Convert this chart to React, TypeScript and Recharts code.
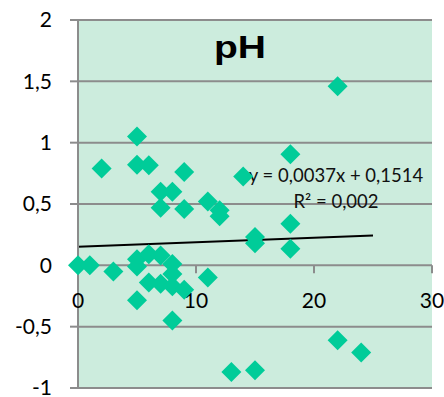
import React from "react";
import {
  ScatterChart,
  Scatter,
  XAxis,
  YAxis,
  CartesianGrid,
  ReferenceLine,
  ReferenceDot,
  Customized,
} from "recharts";

// pH change per sample (x = time step, y = delta pH)
const xValues = [
  0, 1, 2, 3, 5, 5, 5, 5, 5, 6, 6, 6, 7, 7, 7, 7, 8, 8, 8, 8, 8, 9, 9, 9, 11,
  11, 12, 12, 13, 14, 15, 15, 15, 18, 18, 18, 22, 22, 24,
];
const yValues = [
  0, 0, 0.79, -0.05, 1.05, 0.82, 0.05, -0.01, -0.285, 0.815, 0.09, -0.14, 0.6,
  0.47, 0.08, -0.15, 0.6, 0.01, -0.07, -0.17, -0.45, 0.76, 0.46, -0.2, 0.52,
  -0.1, 0.45, 0.4, -0.87, 0.725, 0.23, 0.18, -0.855, 0.905, 0.34, 0.135, 1.46,
  -0.61, -0.71,
];

const yTicks = [-1, -0.5, 0, 0.5, 1, 1.5, 2];
const xTicks = [0, 10, 20, 30];

// linear trendline as printed on the chart
const slope = 0.0037;
const intercept = 0.1514;
const trendRange = [0, 25];

const points = xValues.map((x, i) => ({ x, y: yValues[i] }));

const FONT = "Lato, 'Open Sans', sans-serif";
const GRID = "#8c8c8c";
const MARKER = "#00cc99";

const Diamond = (props: any) => {
  const { cx, cy } = props;
  const r = 10;
  return (
    <polygon
      points={`${cx},${cy - r} ${cx + r},${cy} ${cx},${cy + r} ${cx - r},${cy}`}
      fill={MARKER}
    />
  );
};

// x ticks sit on the zero line, labels below it
const XTickMark = (label: number) => (props: any) => {
  const { cx, cy } = props;
  return (
    <g>
      {label !== 0 && (
        <line x1={cx} y1={cy} x2={cx} y2={cy + 8} stroke={GRID} strokeWidth={2} />
      )}
      <text
        x={cx}
        y={cy + 43}
        textAnchor="middle"
        fontFamily={FONT}
        fontSize={21}
        fill="#000"
      >
        {label}
      </text>
    </g>
  );
};

const Labels = () => (
  <g fontFamily={FONT}>
    <text
      x={240}
      y={58}
      textAnchor="middle"
      fontFamily="'Liberation Sans', Arial, sans-serif"
      fontWeight="bold"
      fontSize={32}
      textLength={52}
      lengthAdjust="spacingAndGlyphs"
      fill="#000"
    >
      pH
    </text>
    <text x={336} y={182} textAnchor="middle" fontSize={18.5} fill="#111">
      {`y = ${String(slope).replace(".", ",")}x + ${String(intercept).replace(".", ",")}`}
    </text>
    <text x={336} y={208} textAnchor="middle" fontSize={18.5} fill="#111">
      R² = 0,002
    </text>
  </g>
);

export default function App() {
  return (
    <div style={{ position: "absolute", left: 0, top: 0 }}>
      <ScatterChart
        width={444}
        height={397}
        margin={{ top: 20, right: 12, bottom: 9, left: 0 }}
        style={{ overflow: "visible" }}
      >
        <CartesianGrid
          vertical={false}
          stroke={GRID}
          strokeWidth={2}
          fill="#ccecdd"
          fillOpacity={1}
        />
        <XAxis type="number" dataKey="x" domain={[0, 30]} ticks={xTicks} hide />
        <YAxis
          type="number"
          dataKey="y"
          domain={[-1, 2]}
          ticks={yTicks}
          width={78}
          interval={0}
          axisLine={{ stroke: GRID, strokeWidth: 2 }}
          tickLine={{ stroke: GRID, strokeWidth: 2 }}
          tickSize={8}
          tickMargin={18}
          tick={{ fontFamily: FONT, fontSize: 21, fill: "#000" }}
          tickFormatter={(v: number) => String(v).replace(".", ",")}
        />
        {xTicks.map((t) => (
          <ReferenceDot
            key={t}
            x={t}
            y={0}
            r={0}
            ifOverflow="visible"
            shape={XTickMark(t)}
          />
        ))}
        <Scatter data={points} shape={<Diamond />} isAnimationActive={false} />
        <ReferenceLine
          segment={[
            { x: trendRange[0], y: intercept + slope * trendRange[0] },
            { x: trendRange[1], y: intercept + slope * trendRange[1] },
          ]}
          stroke="#000"
          strokeWidth={2}
          ifOverflow="visible"
        />
        <Customized component={Labels} />
      </ScatterChart>
    </div>
  );
}
